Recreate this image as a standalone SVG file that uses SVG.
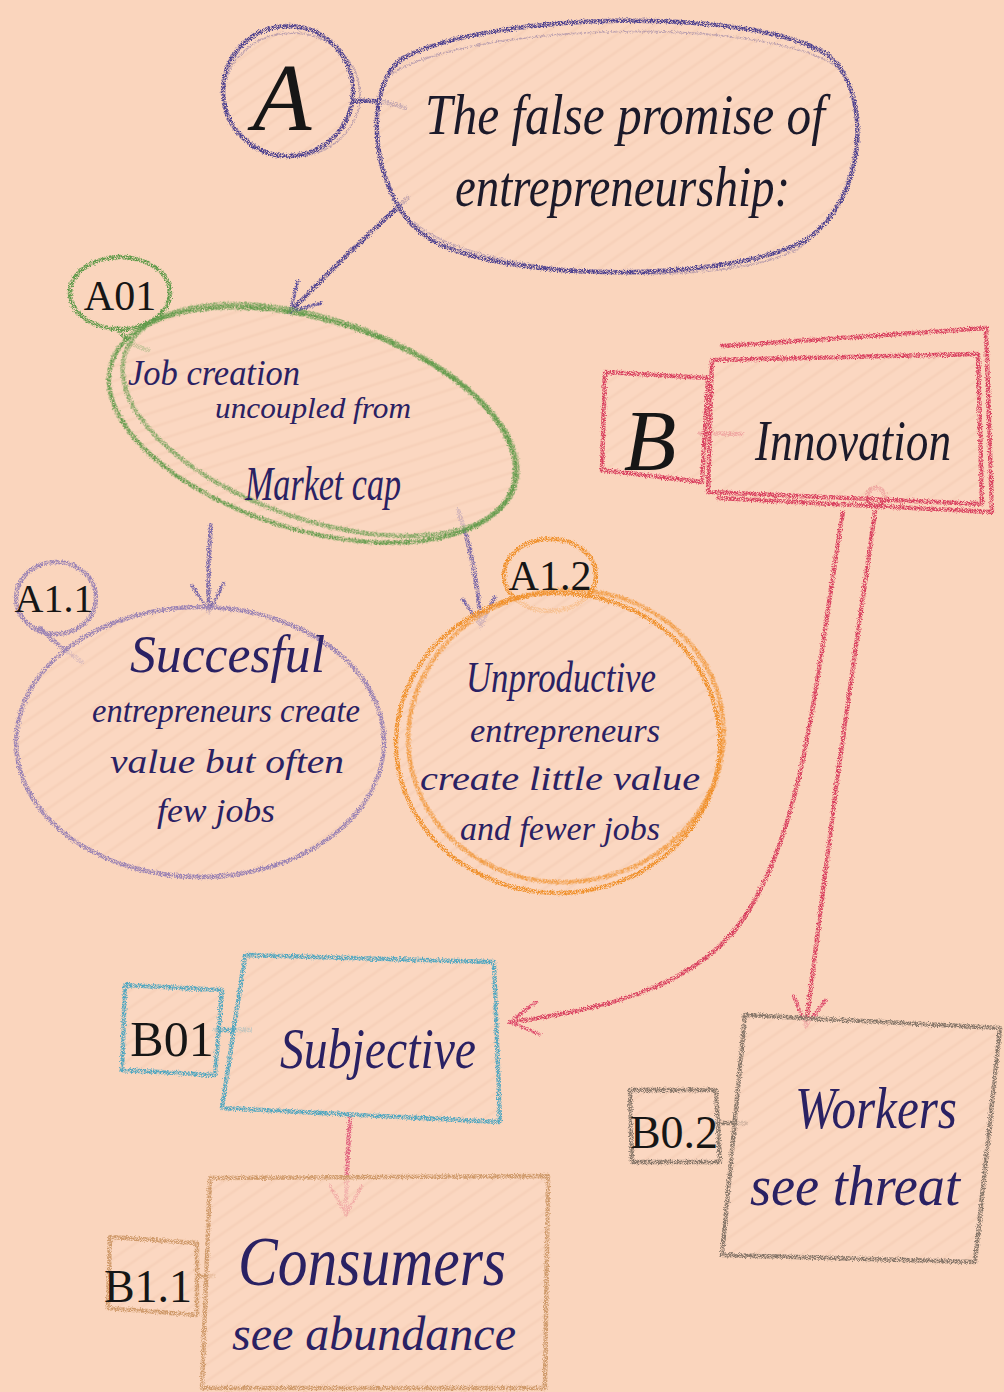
<svg xmlns="http://www.w3.org/2000/svg" width="1004" height="1392" viewBox="0 0 1004 1392">
  <defs>
    <!-- grainy crayon edge -->
    <filter id="crayon" filterUnits="userSpaceOnUse" x="0" y="0" width="1004" height="1392">
      <feTurbulence type="fractalNoise" baseFrequency="0.8" numOctaves="2" seed="4" result="warp"/>
      <feDisplacementMap in="SourceGraphic" in2="warp" scale="4" xChannelSelector="R" yChannelSelector="G" result="rough"/>
      <feTurbulence type="fractalNoise" baseFrequency="1.4" numOctaves="1" seed="9" result="grain"/>
      <feColorMatrix in="grain" type="matrix" values="0 0 0 0 0  0 0 0 0 0  0 0 0 0 0  3.6 0 0 0 -1.1" result="mask"/>
      <feComposite in="rough" in2="mask" operator="in"/>
    </filter>
    <!-- soft diagonal hatching inside shapes -->
    <pattern id="hatch" width="14" height="14" patternUnits="userSpaceOnUse" patternTransform="rotate(-35)">
      <rect width="14" height="14" fill="#fbd8c2"/>
      <line x1="0" y1="4" x2="14" y2="4" stroke="#f3cab2" stroke-width="3" opacity="0.6"/>
    </pattern>
    <marker id="vNavy" viewBox="-32 -20 36 40" markerWidth="36" markerHeight="40" refX="0" refY="0" orient="auto" markerUnits="userSpaceOnUse">
      <path d="M -28 -16 L 0 0 L -28 16" fill="none" stroke="#5b4f9c" stroke-width="3.5" stroke-linecap="round"/>
    </marker>
    <marker id="vPurple" viewBox="-32 -20 36 40" markerWidth="36" markerHeight="40" refX="0" refY="0" orient="auto" markerUnits="userSpaceOnUse">
      <path d="M -28 -16 L 0 0 L -28 16" fill="none" stroke="#7a68a8" stroke-width="3.5" stroke-linecap="round"/>
    </marker>
    <marker id="vRed" viewBox="-32 -20 36 40" markerWidth="36" markerHeight="40" refX="0" refY="0" orient="auto" markerUnits="userSpaceOnUse">
      <path d="M -28 -16 L 0 0 L -28 16" fill="none" stroke="#de4c6c" stroke-width="3.5" stroke-linecap="round"/>
    </marker>
    <style>
      .crayon { fill: none; stroke-width: 4.5; stroke-linecap: round; stroke-linejoin: round; filter: url(#crayon); }
      .ghost { fill: none; stroke-width: 2; opacity: 0.35; filter: url(#crayon); }
      .navy { stroke: #4d418f; }
      .green { stroke: #5e9a48; }
      .mauve { stroke: #9a82b4; }
      .violet { stroke: #7a68a8; }
      .orange { stroke: #f0902c; }
      .red { stroke: #d9415f; }
      .blue { stroke: #4fa6c0; }
      .tan { stroke: #cf9a6a; }
      .grey { stroke: #857568; }
      .pink { stroke: #e0607e; }
      .fillhatch { fill: url(#hatch); stroke: none; opacity: 0.7; }
      .label { font-family: "Liberation Serif", "DejaVu Serif", serif; fill: #161616; text-anchor: middle; }
      .head { font-family: "Liberation Serif", "DejaVu Serif", serif; font-style: italic; fill: #1c1a2a; }
      .body { font-family: "Liberation Serif", "DejaVu Serif", serif; font-style: italic; fill: #2a2163; }
    </style>
  </defs>

  <rect width="1004" height="1392" fill="#fad5bd"/>

  <!-- connectors -->
  <g id="connectors" fill="none">
    <path class="crayon navy" d="M 353 102 Q 378 98 405 108" stroke-width="3.5"/>
    <path class="crayon navy" d="M 408 198 Q 350 250 290 312" stroke-width="3.5" marker-end="url(#vNavy)"/>
    <path class="crayon violet" d="M 211 525 Q 207 570 209 612" stroke-width="3.5" marker-end="url(#vPurple)"/>
    <path class="crayon violet" d="M 458 510 Q 476 560 481 626" stroke-width="3.5" marker-end="url(#vPurple)"/>
    <path class="crayon red" d="M 700 433 L 742 434" stroke-width="3.5"/>
    <circle class="crayon red" cx="876" cy="497" r="9" stroke-width="3.5"/>
    <path class="crayon red" d="M 843 512 C 815 680 805 840 735 930 C 685 990 600 1010 510 1022" stroke-width="3.5" marker-end="url(#vRed)"/>
    <path class="crayon red" d="M 875 512 L 837 780 L 806 1026" stroke-width="3.5" marker-end="url(#vRed)"/>
    <path class="crayon blue" d="M 215 1030 L 250 1030" stroke-width="3.5"/>
    <path class="crayon pink" d="M 350 1118 Q 346 1170 346 1214" stroke-width="3.5" marker-end="url(#vRed)"/>
    <path class="crayon tan" d="M 197 1276 L 214 1276" stroke-width="3.5"/>
    <path class="crayon grey" d="M 718 1123 L 746 1123" stroke-width="3.5"/>
  </g>

  <!-- A: title node -->
  <g id="nodeA">
    <circle class="fillhatch" cx="288" cy="91" r="64"/>
    <circle class="crayon navy" cx="288" cy="91" r="65"/>
    <ellipse class="ghost navy" cx="292" cy="95" rx="68" ry="62"/>
    <text class="label" x="282" y="130" font-size="96" font-style="italic">A</text>
  </g>
  <g id="nodeTitle">
    <path class="fillhatch" d="M 400 60 C 480 12 760 4 832 58 C 872 98 866 200 806 240 C 722 286 480 282 420 232 C 372 192 362 92 400 60 Z"/>
    <path class="crayon navy" d="M 400 60 C 480 12 760 4 832 58 C 872 98 866 200 806 240 C 722 286 480 282 420 232 C 372 192 362 92 400 60 Z"/>
    <path class="ghost navy" d="M 390 75 C 470 22 770 14 842 70 C 870 110 858 210 796 250 C 710 292 470 276 414 222"/>
    <text class="head" x="425" y="134" font-size="58" textLength="400" lengthAdjust="spacingAndGlyphs">The false promise of</text>
    <text class="head" x="455" y="206" font-size="58" textLength="335" lengthAdjust="spacingAndGlyphs">entrepreneurship:</text>
  </g>

  <!-- A01 -->
  <g id="nodeA01">
    <ellipse class="crayon green" cx="120" cy="293" rx="50" ry="36"/>
    <path class="crayon green" d="M 118 328 Q 128 345 148 350" stroke-width="3"/>
    <ellipse class="fillhatch" cx="312" cy="425" rx="208" ry="103" transform="rotate(17 312 425)"/>
    <ellipse class="crayon green" cx="312" cy="425" rx="210" ry="105" transform="rotate(17 312 425)"/>
    <ellipse class="crayon green" cx="320" cy="420" rx="206" ry="100" transform="rotate(19 320 420)" stroke-width="3" opacity="0.8"/>
    <text class="label" x="120" y="310" font-size="42">A01</text>
    <text class="body" x="128" y="385" font-size="36" textLength="172" lengthAdjust="spacingAndGlyphs">Job creation</text>
    <text class="body" x="215" y="418" font-size="30" textLength="196" lengthAdjust="spacingAndGlyphs">uncoupled from</text>
    <text class="body" x="245" y="500" font-size="48" textLength="156" lengthAdjust="spacingAndGlyphs">Market cap</text>
  </g>

  <!-- B -->
  <g id="nodeB">
    <path class="fillhatch" d="M 605 372 L 708 378 L 702 482 L 602 470 Z"/>
    <path class="crayon red" d="M 605 372 L 708 378 L 702 482 L 602 470 Z"/>
    <text class="label" x="650" y="470" font-size="86" font-style="italic">B</text>
  </g>
  <g id="nodeInnovation">
    <path class="crayon red" d="M 722 346 L 986 328 L 992 512 L 718 498" stroke-width="3.5"/>
    <path class="fillhatch" d="M 712 360 L 978 354 L 982 504 L 708 492 Z"/>
    <path class="crayon red" d="M 712 360 L 978 354 L 982 504 L 708 492 Z"/>
    <text class="head" x="755" y="460" font-size="56" textLength="196" lengthAdjust="spacingAndGlyphs">Innovation</text>
  </g>

  <!-- A1.1 -->
  <g id="nodeA11">
    <ellipse class="crayon mauve" cx="56" cy="598" rx="40" ry="36"/>
    <path class="crayon mauve" d="M 40 628 Q 60 648 82 662" stroke-width="3"/>
    <ellipse class="fillhatch" cx="200" cy="742" rx="182" ry="133"/>
    <ellipse class="crayon mauve" cx="200" cy="742" rx="184" ry="135"/>
    <text class="label" x="54" y="612" font-size="40">A1.1</text>
    <text class="body" x="130" y="672" font-size="52" textLength="195" lengthAdjust="spacingAndGlyphs">Succesful</text>
    <text class="body" x="92" y="722" font-size="34" textLength="268" lengthAdjust="spacingAndGlyphs">entrepreneurs create</text>
    <text class="body" x="110" y="773" font-size="34" textLength="234" lengthAdjust="spacingAndGlyphs">value but often</text>
    <text class="body" x="157" y="822" font-size="34" textLength="118" lengthAdjust="spacingAndGlyphs">few jobs</text>
  </g>

  <!-- A1.2 -->
  <g id="nodeA12">
    <ellipse class="crayon orange" cx="550" cy="575" rx="46" ry="36"/>
    <ellipse class="fillhatch" cx="558" cy="743" rx="160" ry="148"/>
    <ellipse class="crayon orange" cx="558" cy="743" rx="162" ry="150"/>
    <ellipse class="crayon orange" cx="566" cy="736" rx="158" ry="146" transform="rotate(-8 566 736)" stroke-width="3" opacity="0.85"/>
    <text class="label" x="550" y="590" font-size="42">A1.2</text>
    <text class="body" x="466" y="692" font-size="44" textLength="190" lengthAdjust="spacingAndGlyphs">Unproductive</text>
    <text class="body" x="470" y="742" font-size="34" textLength="190" lengthAdjust="spacingAndGlyphs">entrepreneurs</text>
    <text class="body" x="420" y="790" font-size="34" textLength="280" lengthAdjust="spacingAndGlyphs">create little value</text>
    <text class="body" x="460" y="840" font-size="34" textLength="200" lengthAdjust="spacingAndGlyphs">and fewer jobs</text>
  </g>

  <!-- B01 -->
  <g id="nodeB01">
    <path class="fillhatch" d="M 125 985 L 222 990 L 215 1075 L 122 1070 Z"/>
    <path class="crayon blue" d="M 125 985 L 222 990 L 215 1075 L 122 1070 Z"/>
    <text class="label" x="172" y="1056" font-size="50">B01</text>
  </g>
  <g id="nodeSubjective">
    <path class="fillhatch" d="M 245 955 L 494 962 L 500 1122 L 222 1108 Z"/>
    <path class="crayon blue" d="M 245 955 L 494 962 L 500 1122 L 222 1108 Z"/>
    <text class="body" x="280" y="1068" font-size="58" textLength="196" lengthAdjust="spacingAndGlyphs">Subjective</text>
  </g>

  <!-- B1.1 -->
  <g id="nodeB11">
    <path class="fillhatch" d="M 110 1237 L 197 1243 L 197 1315 L 108 1308 Z"/>
    <path class="crayon tan" d="M 110 1237 L 197 1243 L 197 1315 L 108 1308 Z"/>
    <text class="label" x="148" y="1302" font-size="46">B1.1</text>
  </g>
  <g id="nodeConsumers">
    <path class="fillhatch" d="M 210 1178 L 548 1176 L 545 1388 L 202 1388 Z"/>
    <path class="crayon tan" d="M 210 1178 L 548 1176 L 545 1388 L 202 1388 Z"/>
    <text class="body" x="238" y="1285" font-size="70" textLength="268" lengthAdjust="spacingAndGlyphs">Consumers</text>
    <text class="body" x="232" y="1350" font-size="48" textLength="284" lengthAdjust="spacingAndGlyphs">see abundance</text>
  </g>

  <!-- B0.2 -->
  <g id="nodeB02">
    <path class="fillhatch" d="M 630 1090 L 716 1090 L 720 1162 L 632 1162 Z"/>
    <path class="crayon grey" d="M 630 1090 L 716 1090 L 720 1162 L 632 1162 Z"/>
    <text class="label" x="674" y="1148" font-size="46">B0.2</text>
  </g>
  <g id="nodeWorkers">
    <path class="fillhatch" d="M 745 1015 L 1000 1028 L 975 1262 L 722 1255 Z"/>
    <path class="crayon grey" d="M 745 1015 L 1000 1028 L 975 1262 L 722 1255 Z"/>
    <text class="body" x="795" y="1128" font-size="60" textLength="162" lengthAdjust="spacingAndGlyphs">Workers</text>
    <text class="body" x="750" y="1205" font-size="56" textLength="210" lengthAdjust="spacingAndGlyphs">see threat</text>
  </g>
</svg>
